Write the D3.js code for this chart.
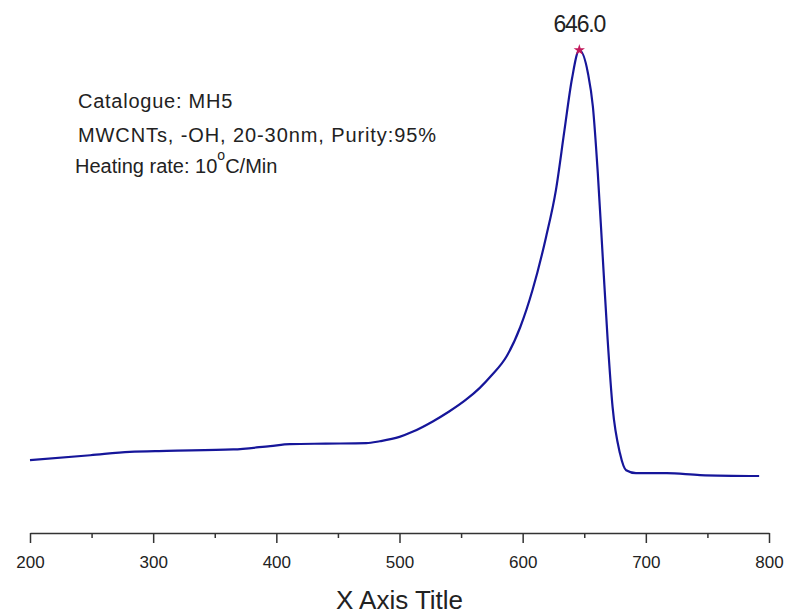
<!DOCTYPE html>
<html>
<head>
<meta charset="utf-8">
<script src="https://cdn.jsdelivr.net/npm/d3@7"></script>
<style>
  body { margin: 0; background: #fff; }
  #chart text { font-family: "Liberation Sans", Arial, sans-serif; }
</style>
</head>
<body>
<div id="chart"></div>
<script>
// Temperatures (deg C)
const temps = [200, 249, 281, 311, 365, 395, 411, 440, 473, 484, 500, 511, 527, 540, 554, 565,
               575, 587, 598, 608, 619, 627, 634, 640, 646, 653, 657, 661, 665, 669, 673, 679,
               684, 692, 717, 744, 792];
// Signal (arbitrary units, peak = 100)
const signal = [15.1, 16.1, 16.8, 17.0, 17.3, 18.0, 18.4, 18.5, 18.6, 19.0, 19.9, 21.0, 23.1, 25.1, 27.6, 30.0,
                32.7, 36.6, 42.6, 50.3, 61.3, 71.0, 83.5, 94.0, 100, 95.2, 88.3, 74.5, 57.2, 40.0, 26.1, 16.5,
                13.0, 12.4, 12.4, 12.0, 11.8];
const xTicks = [200, 300, 400, 500, 600, 700, 800];
const minorTicks = [250, 350, 450, 550, 650, 750];
const peak = {t: 646, v: 100, label: "646.0"};
const notes = ["Catalogue: MH5", "MWCNTs, -OH, 20-30nm, Purity:95%"];

const width = 790, height = 614;
const data = temps.map((t, i) => ({t: t, v: signal[i]}));

const svg = d3.select("#chart").append("svg")
    .attr("width", width)
    .attr("height", height);

// Scales
const x = d3.scaleLinear().domain([200, 800]).range([30, 769]);
const y = d3.scaleLinear().domain([0, 100]).range([533, 50]);

// Bottom axis with major and minor ticks
svg.append("g")
    .attr("transform", "translate(0,533)")
    .call(d3.axisBottom(x).tickValues(minorTicks).tickSize(5).tickFormat(""))
    .call(g => g.select(".domain").remove())
    .call(g => g.selectAll(".tick line").attr("stroke", "#333").attr("stroke-width", 1.5));

svg.append("g")
    .attr("transform", "translate(0,533)")
    .call(d3.axisBottom(x).tickValues(xTicks).tickSize(10).tickSizeOuter(0).tickPadding(13))
    .call(g => g.select(".domain").attr("stroke", "#333").attr("stroke-width", 1.5))
    .call(g => g.selectAll(".tick line").attr("stroke", "#333").attr("stroke-width", 1.5))
    .call(g => g.selectAll(".tick text")
        .attr("fill", "#222")
        .style("font-size", "17px")
        .style("font-family", "'Liberation Sans', Arial, sans-serif"));

// Axis title
svg.append("text")
    .attr("x", (x(200) + x(800)) / 2)
    .attr("y", 609)
    .attr("text-anchor", "middle")
    .attr("fill", "#222")
    .style("font-size", "26px")
    .text("X Axis Title");

// Curve
const line = d3.line()
    .x(d => x(d.t))
    .y(d => y(d.v))
    .curve(d3.curveMonotoneX);

svg.append("path")
    .datum(data)
    .attr("d", line)
    .attr("fill", "none")
    .attr("stroke", "#16169a")
    .attr("stroke-width", 2.2);

// Peak marker and label
svg.append("path")
    .attr("d", d3.symbol().type(d3.symbolStar).size(40))
    .attr("transform", `translate(${x(peak.t)},${y(peak.v)})`)
    .attr("fill", "#c2185b");

svg.append("text")
    .attr("x", x(peak.t))
    .attr("y", 32)
    .attr("text-anchor", "middle")
    .attr("fill", "#222")
    .attr("letter-spacing", "-1.2px")
    .style("font-size", "23px")
    .text(peak.label);

// Annotation block
const notesG = svg.append("g").attr("fill", "#222").style("font-size", "20px");
notesG.selectAll("text.note")
    .data(notes)
    .enter().append("text")
    .attr("class", "note")
    .attr("x", 78)
    .attr("y", (d, i) => 108 + i * 34)
    .attr("letter-spacing", (d, i) => i === 0 ? "0.75px" : "0.9px")
    .text(d => d);

const heat = notesG.append("text")
    .attr("x", 75)
    .attr("y", 173);
heat.append("tspan").text("Heating rate: 10");
heat.append("tspan").attr("dy", -13).style("font-size", "14px").text("o");
heat.append("tspan").attr("dy", 13).text("C/Min");
</script>
</body>
</html>
